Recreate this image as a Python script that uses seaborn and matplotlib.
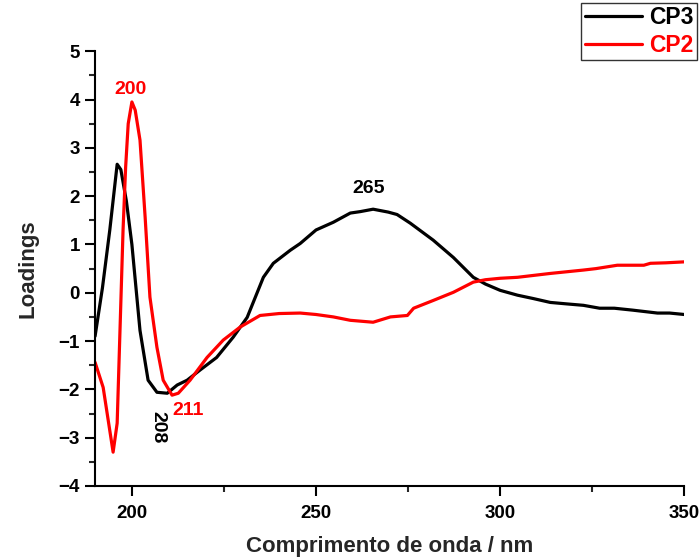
import numpy as np
import pandas as pd
import matplotlib
matplotlib.use("Agg")
import matplotlib.pyplot as plt
import seaborn as sns
from matplotlib.ticker import MultipleLocator
from matplotlib.lines import Line2D

cp3_x = [190, 192, 194, 196, 197, 198.5, 200, 202.2, 204.4, 206.8, 209.6, 212.3, 215, 218.5, 223,
         227.5, 231.3, 235.7, 238.4, 243, 245.7, 250, 254.7, 259.3, 262, 265.5, 269.6, 272,
         275.6, 281.8, 287.3, 292.7, 296, 300, 304.7, 309, 313.6, 318, 322.6, 327, 331, 336,
         342.7, 346, 350]
cp3_y = [-0.9, 0.1, 1.3, 2.66, 2.55, 1.9, 1.0, -0.78, -1.81, -2.06, -2.08, -1.91, -1.81, -1.6, -1.34,
         -0.92, -0.51, 0.32, 0.61, 0.88, 1.02, 1.3, 1.46, 1.65, 1.68, 1.73, 1.67, 1.62,
         1.44, 1.09, 0.73, 0.32, 0.18, 0.05, -0.05, -0.12, -0.2, -0.23, -0.26, -0.32, -0.32, -0.36,
         -0.42, -0.42, -0.45]

cp2_x = [190, 192.2, 194.9, 196, 197.6, 198.3, 199, 200, 200.9, 202.2, 203.6, 204.9, 206.8, 208.5,
         210.9, 212.6, 215.8, 220.4, 224.8, 229.4, 234.8, 240, 245.7, 250, 254.7, 259.3, 265.5,
         270.2, 274.8, 276.5, 281.8, 287.3, 292.7, 296, 300, 304.7, 313.6, 322.6, 326, 331.8,
         339, 340.8, 345, 350]
cp2_y = [-1.44, -1.96, -3.3, -2.7, 1.3, 2.6, 3.5, 3.95, 3.78, 3.16, 1.56, -0.09, -1.13, -1.81,
         -2.12, -2.08, -1.81, -1.34, -0.98, -0.71, -0.47, -0.43, -0.42, -0.45, -0.5, -0.57, -0.61,
         -0.5, -0.47, -0.32, -0.16, 0.01, 0.22, 0.27, 0.3, 0.32, 0.4, 0.47, 0.5, 0.57,
         0.57, 0.61, 0.62, 0.64]

series_names = ["CP3", "CP2"]
x_ticks = [200, 250, 300, 350]
y_ticks = [-4, -3, -2, -1, 0, 1, 2, 3, 4, 5]

df = pd.concat([
    pd.DataFrame({"x": cp3_x, "y": cp3_y, "serie": "CP3"}),
    pd.DataFrame({"x": cp2_x, "y": cp2_y, "serie": "CP2"}),
])

sns.set_style("ticks")
plt.rcParams["font.family"] = ["Liberation Sans", "DejaVu Sans"]
plt.rcParams["font.weight"] = "bold"

fig = plt.figure(figsize=(6.99, 5.57), dpi=100)
ax = fig.add_axes([0.136, 0.1275, 0.843, 0.7805])

palette = {"CP3": "black", "CP2": "red"}
sns.lineplot(data=df, x="x", y="y", hue="serie", hue_order=series_names, palette=palette,
             linewidth=2.3, ax=ax, sort=False, estimator=None, legend=False)

ax.set_xlim(190, 350)
ax.set_ylim(-4, 5)
ax.set_xticks(x_ticks)
ax.set_yticks(y_ticks)
ax.xaxis.set_minor_locator(MultipleLocator(25))
ax.yaxis.set_minor_locator(MultipleLocator(0.5))
ax.tick_params(which="major", direction="out", length=7, width=1.5, labelsize=13.5, colors="black")
ax.tick_params(which="minor", direction="out", length=4, width=1.5)
ax.tick_params(axis="x", which="major", pad=7)
ax.tick_params(axis="y", which="major", pad=4)
for lbl in ax.get_xticklabels() + ax.get_yticklabels():
    lbl.set_fontweight("bold")
sns.despine(ax=ax)
for s in ["left", "bottom"]:
    ax.spines[s].set_linewidth(1.5)
    ax.spines[s].set_color("black")

ax.set_xlabel("Comprimento de onda / nm", fontsize=16, fontweight="bold", labelpad=10)
ax.set_ylabel("Loadings", fontsize=16, fontweight="bold", labelpad=14)

ax.text(199.5, 4.2, "200", color="red", fontsize=14, fontweight="bold", ha="center", va="center")
ax.text(264.2, 2.16, "265", color="black", fontsize=14, fontweight="bold", ha="center", va="center")
ax.text(207.1, -2.78, "208", color="black", fontsize=14, fontweight="bold", ha="center", va="center",
        rotation=270)
ax.text(215.2, -2.43, "211", color="red", fontsize=14, fontweight="bold", ha="center", va="center")

handles = [Line2D([], [], color="black", lw=2.3), Line2D([], [], color="red", lw=2.3)]
leg = fig.legend(handles, series_names, loc="upper right", bbox_to_anchor=(0.997, 0.995),
                 frameon=True, fancybox=False, edgecolor="black", handlelength=2.5,
                 prop={"weight": "bold", "size": 16.5}, borderpad=0.15, labelspacing=0.2,
                 handletextpad=0.3, borderaxespad=0)
leg.get_frame().set_linewidth(1.0)
for t, c in zip(leg.get_texts(), ["black", "red"]):
    t.set_color(c)

fig.savefig("out.png", dpi=100)
